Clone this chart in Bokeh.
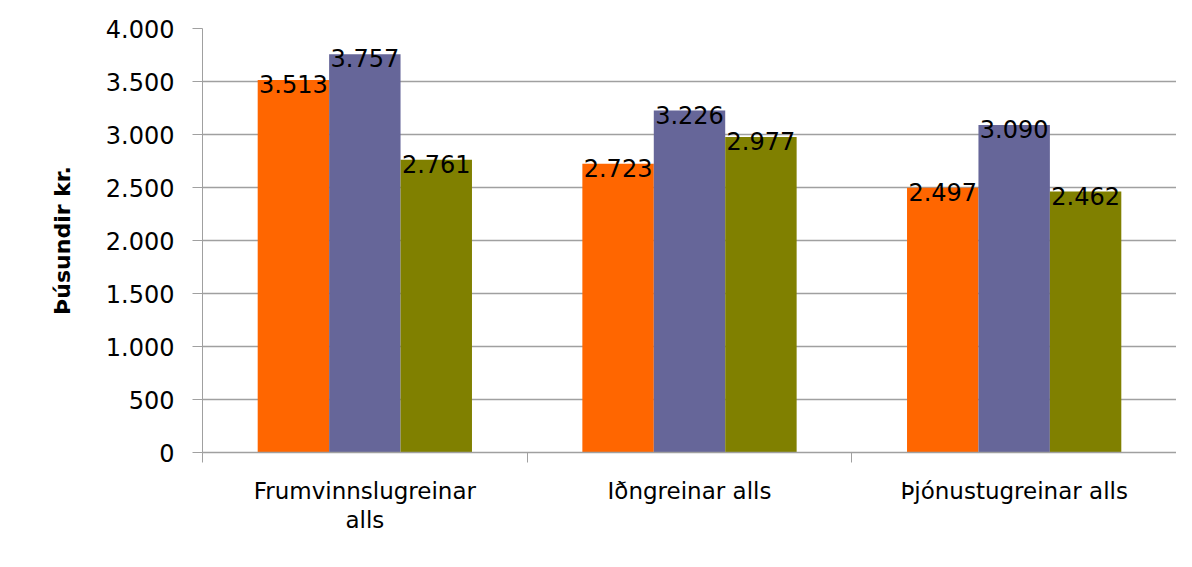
from bokeh.plotting import figure
from bokeh.models import (Range1d, LinearAxis, FixedTicker, CustomJSTickFormatter,
                          ColumnDataSource, Legend, LegendItem)
from bokeh.transform import dodge
from bokeh.embed import file_html
from bokeh.resources import INLINE

categories = ["Frumvinnslugreinar\nalls", "Iðngreinar alls", "Þjónustugreinar alls"]
series = ["Norðurland eystra", "Höfuðborgarsvæði", "Landsbyggð"]
nordurland = [3513, 2723, 2497]
hofudborg = [3757, 3226, 3090]
landsbyggd = [2761, 2977, 2462]
y_ticks = [0, 500, 1000, 1500, 2000, 2500, 3000, 3500, 4000]
y_tick_labels = ["0", "500", "1.000", "1.500", "2.000", "2.500", "3.000", "3.500", "4.000"]
colors = ["#FF6600", "#666699", "#808000"]
y_label = "Þúsundir kr."

FONT = "DejaVu Sans"
GRID = "#a0a0a0"


def fmt(v):
    return f"{v:,}".replace(",", ".")


ncat = len(categories)
cat_pos = [i + 0.5 for i in range(ncat)]

src = ColumnDataSource(dict(
    pos=cat_pos,
    n=nordurland, h=hofudborg, l=landsbyggd,
    n_lbl=[fmt(v) for v in nordurland],
    h_lbl=[fmt(v) for v in hofudborg],
    l_lbl=[fmt(v) for v in landsbyggd],
))

p = figure(x_range=Range1d(0, ncat), y_range=Range1d(0, 4000),
           frame_width=974, frame_height=424, output_backend="svg", toolbar_location=None,
           x_axis_location=None,
           min_border_left=202, min_border_right=0, min_border_top=28, min_border_bottom=10)
p.outline_line_color = None
p.background_fill_color = "white"
p.border_fill_color = "white"

# boundary tick axis
tax = LinearAxis(ticker=FixedTicker(ticks=list(range(ncat + 1))),
                 formatter=CustomJSTickFormatter(code="return ''"),
                 major_tick_out=10, major_tick_in=0, minor_tick_out=0, minor_tick_in=0,
                 axis_line_color=GRID, major_tick_line_color=GRID, axis_line_width=1.5,
                 major_label_standoff=0)
p.add_layout(tax, "below")

cax = LinearAxis(ticker=FixedTicker(ticks=cat_pos),
                 major_label_overrides={pos: c for pos, c in zip(cat_pos, categories)},
                 axis_line_color=None, major_tick_line_color=None, minor_tick_line_color=None,
                 major_label_standoff=9, major_label_text_font_size="23px",
                 major_label_text_font=FONT, major_label_text_color="black",
                 major_label_text_line_height=1.15)
p.add_layout(cax, "below")

p.yaxis.ticker = FixedTicker(ticks=y_ticks)
p.yaxis.major_label_overrides = {t: l for t, l in zip(y_ticks, y_tick_labels)}
p.yaxis.major_label_text_font_size = "24px"
p.yaxis.major_label_text_font = FONT
p.yaxis.major_label_text_color = "black"
p.yaxis.major_label_standoff = 18
p.yaxis.major_tick_out = 10
p.yaxis.major_tick_in = 0
p.yaxis.minor_tick_line_color = None
p.yaxis.axis_line_color = GRID
p.yaxis.major_tick_line_color = GRID
p.yaxis.axis_label = y_label
p.yaxis.axis_label_text_font = FONT
p.yaxis.axis_label_text_font_style = "bold"
p.yaxis.axis_label_text_font_size = "22px"
p.yaxis.axis_label_text_color = "black"
p.yaxis.axis_label_standoff = 28

p.ygrid.ticker = FixedTicker(ticks=y_ticks)
p.ygrid.grid_line_color = GRID
p.ygrid.grid_line_width = 1.5
p.xgrid.visible = False

w = 0.22
offsets = [-w, 0, w]
cols = ["n", "h", "l"]
renderers = []
for off, c, col in zip(offsets, cols, colors):
    r = p.vbar(x=dodge("pos", off), top=c, width=w, source=src,
               fill_color=col, line_color=None)
    renderers.append(r)
    p.text(x=dodge("pos", off), y=c, text=c + "_lbl", source=src,
           text_align="center", text_baseline="alphabetic", y_offset=4,
           text_font_size="24px", text_font={"value": FONT}, text_color="black")

legend = Legend(items=[LegendItem(label=s, renderers=[r]) for s, r in zip(series, renderers)],
                orientation="horizontal", location="top",
                label_text_font_size="23px", label_text_font=FONT, label_text_color="black",
                glyph_width=16, glyph_height=16, label_standoff=7, spacing=60,
                padding=0, margin=2, border_line_color=None, background_fill_alpha=0)
p.add_layout(legend, "below")

open("out.html", "w").write(file_html(p, INLINE))
